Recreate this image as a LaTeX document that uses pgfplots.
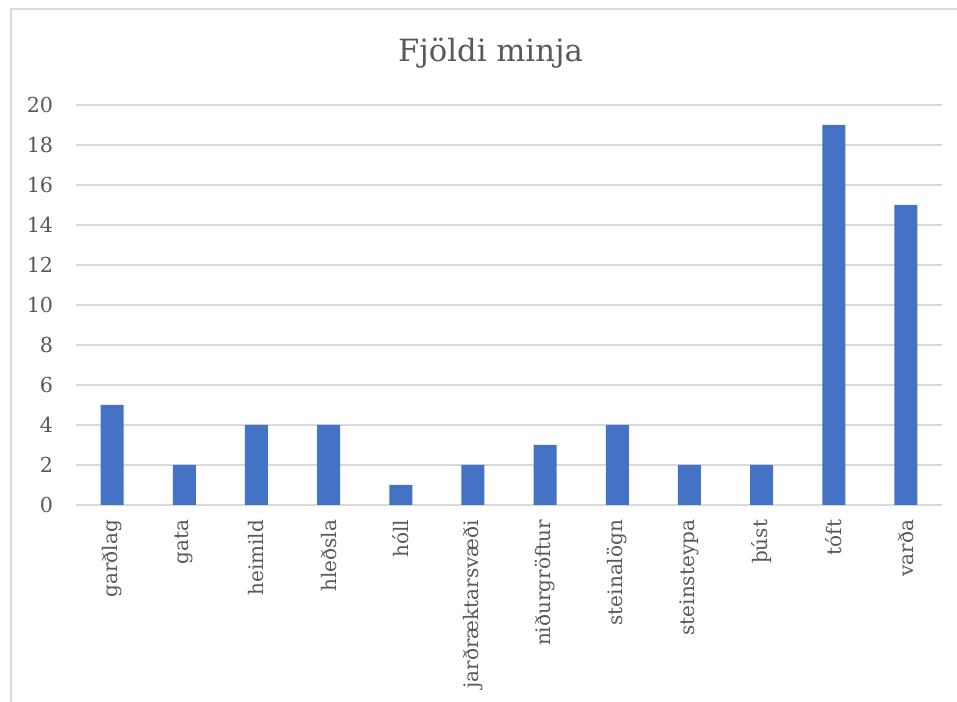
\documentclass[border=0pt]{standalone}
\usepackage{fontspec}
\setmainfont{DejaVu Serif}
\usepackage{pgfplots}
\pgfplotsset{compat=1.18}
\definecolor{txt}{HTML}{595959}
\definecolor{barblue}{HTML}{4472C4}
\definecolor{gridc}{HTML}{D9D9D9}
\begin{document}
\begin{tikzpicture}[x=0.75pt,y=0.75pt]
\useasboundingbox (0,0) rectangle (957,702);
\fill[white] (0,0) rectangle (957,702);
\draw[gridc, line width=1.5pt] (11,0) -- (11,693) -- (957,693);
\node[anchor=base, text=txt, font=\fontsize{23pt}{27pt}\selectfont] at (490.5,640) {Fjöldi minja};
\begin{axis}[
  at={(57pt,147.75pt)}, anchor=south west,
  scale only axis, width=649.5pt, height=300pt,
  xmin=-0.5, xmax=11.5, ymin=0, ymax=20,
  ytick={0,2,...,20},
  xtick={0,...,11},
  xticklabels={garðlag,gata,heimild,hleðsla,hóll,jarðræktarsvæði,niðurgröftur,steinalögn,steinsteypa,þúst,tóft,varða},
  axis line style={draw=none},
  major tick length=0pt,
  ymajorgrids, grid style={gridc, line width=1.1pt},
  /pgf/number format/assume math mode=true,
  tick label style={text=txt, font=\fontsize{15pt}{18pt}\selectfont, inner sep=0pt},
  yticklabel style={anchor=east, font=\fontsize{15.5pt}{18pt}\selectfont},
  xticklabel style={rotate=90, anchor=east},
  yticklabel shift=17pt,
  xticklabel shift=11pt,
  ybar, bar width=17.25pt,
]
\addplot[fill=barblue, draw=none] coordinates {
(0,5) (1,2) (2,4) (3,4) (4,1) (5,2) (6,3) (7,4) (8,2) (9,2) (10,19) (11,15)
};
\end{axis}
\end{tikzpicture}
\end{document}
